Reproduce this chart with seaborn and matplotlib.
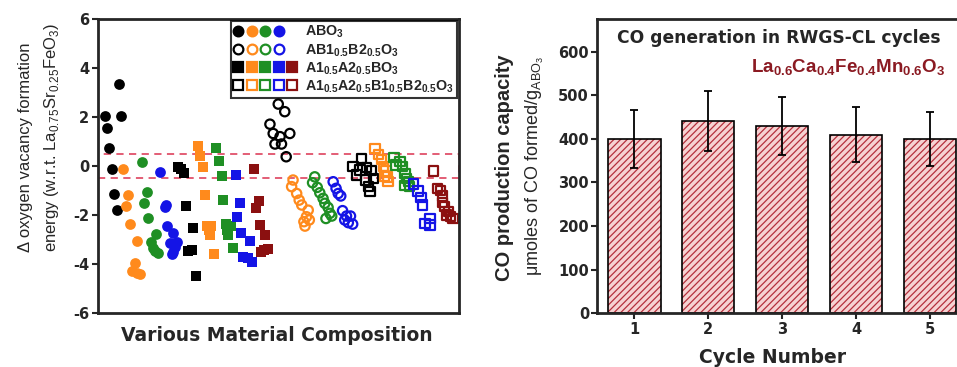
import numpy as np
import pandas as pd
import seaborn as sns
import matplotlib.pyplot as plt
from matplotlib.lines import Line2D
from matplotlib.patches import Rectangle
from matplotlib.legend_handler import HandlerTuple

# ---- left panel: relative vacancy formation energy (x is just a running index) ----
# ABO3, filled circles
abo3_black_x = [2.0, 2.7, 3.2, 3.9, 4.5, 5.3, 5.9, 6.5]
abo3_black_y = [2.04, 1.54, 0.72, -0.11, -1.12, -1.80, 3.35, 2.04]
abo3_orange_x = [7.1, 8.5, 7.8, 8.9, 11.0, 10.3, 9.4, 10.8, 11.7]
abo3_orange_y = [-0.12, -1.18, -1.63, -2.37, -3.06, -3.95, -4.27, -4.36, -4.42]
abo3_green_x = [12.2, 13.7, 12.9, 14.0, 16.1, 14.7, 15.4, 16.8, 15.9]
abo3_green_y = [0.18, -1.05, -1.50, -2.11, -2.78, -3.09, -3.36, -3.54, -3.45]
abo3_blue_x = [17.4, 18.6, 19.0, 19.3, 20.9, 20.0, 22.0, 20.8, 20.6, 21.3]
abo3_blue_y = [-0.26, -1.66, -1.60, -2.45, -2.75, -3.16, -3.09, -3.50, -3.57, -3.30]

# AB1(0.5)B2(0.5)O3, open circles
abb_black_x = [50.0, 51.8, 47.7, 48.6, 50.5, 53.2, 49.1, 50.9, 52.2]
abb_black_y = [2.53, 2.22, 1.71, 1.33, 1.20, 1.33, 0.90, 0.90, 0.38]
abb_orange_x = [54.1, 53.7, 55.1, 55.8, 56.5, 58.3, 57.8, 57.1, 58.6, 57.4]
abb_orange_y = [-0.57, -0.84, -1.12, -1.39, -1.59, -1.80, -2.07, -2.27, -2.20, -2.45]
abb_green_x = [60.1, 59.5, 60.8, 61.5, 62.4, 62.9, 63.8, 64.3, 63.2, 64.8]
abb_green_y = [-0.44, -0.68, -0.87, -1.09, -1.32, -1.52, -1.69, -1.93, -2.14, -2.04]
abb_blue_x = [65.2, 66.0, 66.6, 67.3, 67.8, 68.9, 70.0, 68.4, 70.6, 69.4]
abb_blue_y = [-0.64, -0.91, -1.12, -1.22, -1.82, -2.04, -2.04, -2.20, -2.37, -2.31]

# A1(0.5)A2(0.5)BO3, filled squares
aab_black_x = [22.3, 23.9, 23.0, 24.6, 26.5, 25.1, 26.0, 27.2]
aab_black_y = [-0.05, -0.27, -0.12, -1.62, -2.52, -3.46, -3.41, -4.48]
aab_orange_x = [27.7, 28.3, 29.1, 29.7, 30.2, 31.5, 31.1, 32.2, 30.8]
aab_orange_y = [0.83, 0.41, -0.05, -1.18, -2.45, -2.45, -2.82, -3.57, -2.60]
aab_green_x = [32.9, 33.6, 34.3, 34.8, 35.4, 36.8, 36.1, 37.4, 35.9]
aab_green_y = [0.72, 0.20, -0.40, -1.39, -2.37, -2.45, -2.82, -3.36, -2.60]
aab_blue_x = [38.2, 39.4, 38.6, 39.8, 42.2, 40.3, 41.7, 42.6]
aab_blue_y = [-0.37, -1.50, -2.07, -2.72, -3.06, -3.70, -3.77, -3.90]
aab_red_x = [43.3, 44.7, 43.8, 44.9, 46.3, 46.0, 47.2, 45.3]
aab_red_y = [-0.14, -1.42, -1.70, -2.41, -2.82, -3.43, -3.40, -3.50]

# A1(0.5)A2(0.5)B1(0.5)B2(0.5)O3, open squares
aabb_black_x = [73.1, 70.7, 71.7, 72.6, 74.5, 75.8, 76.3, 74.3, 74.9, 75.4]
aabb_black_y = [0.31, -0.03, -0.37, -0.16, -0.05, -0.19, -0.50, -0.57, -0.84, -1.05]
aabb_orange_x = [76.8, 77.7, 78.6, 79.1, 79.8, 80.3, 79.4, 80.4]
aabb_orange_y = [0.72, 0.48, 0.27, -0.03, -0.20, -0.44, -0.40, -0.64]
aabb_green_x = [82.0, 82.6, 83.7, 84.4, 85.1, 85.5, 86.0, 85.1, 86.4]
aabb_green_y = [0.34, 0.04, 0.18, -0.03, -0.30, -0.50, -0.64, -0.78, -0.84]
aabb_blue_x = [87.5, 88.7, 89.5, 90.0, 92.0, 90.6, 92.0]
aabb_blue_y = [-0.73, -1.02, -1.28, -1.59, -2.14, -2.34, -2.41]
aabb_red_x = [92.9, 94.0, 94.9, 95.5, 95.5, 96.1, 97.1, 97.7, 96.6, 98.4]
aabb_red_y = [-0.20, -0.91, -1.01, -1.22, -1.50, -1.66, -1.86, -2.07, -2.00, -2.14]

family_labels = [r'ABO$_\mathbf{3}$',
                 r'AB1$_\mathbf{0.5}$B2$_\mathbf{0.5}$O$_\mathbf{3}$',
                 r'A1$_\mathbf{0.5}$A2$_\mathbf{0.5}$BO$_\mathbf{3}$',
                 r'A1$_\mathbf{0.5}$A2$_\mathbf{0.5}$B1$_\mathbf{0.5}$B2$_\mathbf{0.5}$O$_\mathbf{3}$']
band = [-0.5, 0.5]

# ---- right panel: CO production over RWGS-CL cycles ----
cycles = ['1', '2', '3', '4', '5']
co_capacity = [400, 441, 430, 410, 400]
co_err = [66, 69, 67, 64, 62]

BLACK, ORANGE, GREEN, BLUE, RED = '#000000', '#ff8a1c', '#1f8f24', '#1414e6', '#8b1010'
WIDE = 'DejaVu Sans'   # the source picture is stretched sideways; a wider face fits better

sns.set_style('ticks')
plt.rcParams['font.family'] = ['Liberation Sans', 'DejaVu Sans']
plt.rcParams['mathtext.fontset'] = 'custom'
plt.rcParams['mathtext.rm'] = 'Liberation Sans'
plt.rcParams['mathtext.bf'] = 'Liberation Sans:bold'
plt.rcParams['axes.unicode_minus'] = False
plt.rcParams['hatch.linewidth'] = 0.9

fig = plt.figure(figsize=(9.57, 3.67), dpi=100)
ax1 = fig.add_axes([0.102, 0.147, 0.3775, 0.801])
ax2 = fig.add_axes([0.6242, 0.1463, 0.3862, 0.802])

groups = [
    (abo3_black_x, abo3_black_y, BLACK, 'o', True),
    (abo3_orange_x, abo3_orange_y, ORANGE, 'o', True),
    (abo3_green_x, abo3_green_y, GREEN, 'o', True),
    (abo3_blue_x, abo3_blue_y, BLUE, 'o', True),
    (abb_black_x, abb_black_y, BLACK, 'o', False),
    (abb_orange_x, abb_orange_y, ORANGE, 'o', False),
    (abb_green_x, abb_green_y, GREEN, 'o', False),
    (abb_blue_x, abb_blue_y, BLUE, 'o', False),
    (aab_black_x, aab_black_y, BLACK, 's', True),
    (aab_orange_x, aab_orange_y, ORANGE, 's', True),
    (aab_green_x, aab_green_y, GREEN, 's', True),
    (aab_blue_x, aab_blue_y, BLUE, 's', True),
    (aab_red_x, aab_red_y, RED, 's', True),
    (aabb_black_x, aabb_black_y, BLACK, 's', False),
    (aabb_orange_x, aabb_orange_y, ORANGE, 's', False),
    (aabb_green_x, aabb_green_y, GREEN, 's', False),
    (aabb_blue_x, aabb_blue_y, BLUE, 's', False),
    (aabb_red_x, aabb_red_y, RED, 's', False),
]
for gx, gy, c, m, filled in groups:
    if filled:
        sns.scatterplot(x=gx, y=gy, ax=ax1, color=c, marker=m, s=60, linewidth=0)
    else:
        sns.scatterplot(x=gx, y=gy, ax=ax1, color=c, marker=m, s=45, linewidth=1.6)
        coll = ax1.collections[-1]
        coll.set_facecolor('none')
        coll.set_edgecolor(c)

ax1.add_patch(Rectangle((0, band[0]), 100, band[1] - band[0], fill=False,
                        ec='#e0506a', ls=(0, (4, 3)), lw=1.3, zorder=0))
ax1.set_xlim(0, 100)
ax1.set_ylim(-6, 6)
ax1.set_yticks(np.arange(-6, 7, 2))
ax1.set_xticks([])
for lab in ax1.get_yticklabels():
    lab.set_fontweight('bold')
    lab.set_family(WIDE)
ax1.tick_params(axis='y', labelsize=10.5, width=1.5, length=4, pad=2)

def row(colors, m, filled):
    return tuple(Line2D([], [], ls='none', marker=m, markersize=7,
                        mfc=c if filled else 'none', mec=c, mew=1.6) for c in colors)

handles = [row([BLACK, ORANGE, GREEN, BLUE], 'o', True),
           row([BLACK, ORANGE, GREEN, BLUE], 'o', False),
           row([BLACK, ORANGE, GREEN, BLUE, RED], 's', True),
           row([BLACK, ORANGE, GREEN, BLUE, RED], 's', False)]
leg = ax1.legend(handles, family_labels, handler_map={tuple: HandlerTuple(ndivide=5, pad=0.3)},
                 loc='upper right', bbox_to_anchor=(0.995, 0.993), handlelength=4.4,
                 prop={'weight': 'bold', 'size': 10.3}, frameon=True, fancybox=False,
                 borderpad=0.2, labelspacing=0.12, handletextpad=0.6, borderaxespad=0)
leg.get_frame().set_edgecolor('black')
leg.get_frame().set_linewidth(1.5)

fig.text(0.0413, 0.313, 'Δ oxygen vacancy formation\n' r'energy (w.r.t. La$_{0.75}$Sr$_{0.25}$FeO$_3$)',
         rotation=90, ha='center', va='bottom', multialignment='left', fontsize=12,
         linespacing=1.6)
fig.text(0.289, 0.087, 'Various Material Composition', ha='center', va='center',
         fontsize=13.5, fontweight='bold', family=WIDE)

# bars: pink fill with dark-red hatch, then black outline on top
sns.barplot(x=cycles, y=co_capacity, ax=ax2, color='#f6d2d2', edgecolor='#b4303c',
            linewidth=0, hatch='/////', width=0.71, errorbar=None, saturation=1)
sns.barplot(x=cycles, y=co_capacity, ax=ax2, color='black', fill=False,
            linewidth=1.2, width=0.71, errorbar=None)
ax2.errorbar(x=np.arange(len(cycles)), y=co_capacity, yerr=co_err, fmt='none',
             ecolor='black', elinewidth=1.3, capsize=3, capthick=1.3)
ax2.set_xlim(-0.5, 4.5)
ax2.set_ylim(0, 675)
ax2.set_yticks(np.arange(0, 601, 100))
for lab in ax2.get_yticklabels() + ax2.get_xticklabels():
    lab.set_fontweight('bold')
    lab.set_family(WIDE)
ax2.tick_params(labelsize=10.5, width=1.5, length=4, pad=2)
ax2.set_xlabel('')
ax2.set_ylabel('')

fig.text(0.527, 0.544, 'CO production capacity', rotation=90, ha='center', va='center',
         fontsize=14.5, fontweight='bold')
fig.text(0.559, 0.548, r'μmoles of CO formed/g$_{\mathrm{ABO}_3}$', rotation=90, ha='center',
         va='center', fontsize=13)
fig.text(0.814, 0.896, 'CO generation in RWGS-CL cycles', ha='center', va='center',
         fontsize=12.3, fontweight='bold', family=WIDE)
fig.text(0.988, 0.815, r'La$_\mathbf{0.6}$Ca$_\mathbf{0.4}$Fe$_\mathbf{0.4}$Mn$_\mathbf{0.6}$O$_\mathbf{3}$',
         ha='right', va='center', fontsize=13.5, fontweight='bold', color='#8b1a22')
fig.text(0.807, 0.027, 'Cycle Number', ha='center', va='center', fontsize=13.5,
         fontweight='bold', family=WIDE)

for ax in (ax1, ax2):
    for sp in ax.spines.values():
        sp.set_linewidth(2)
        sp.set_visible(True)

fig.savefig('out.png', dpi=100)
